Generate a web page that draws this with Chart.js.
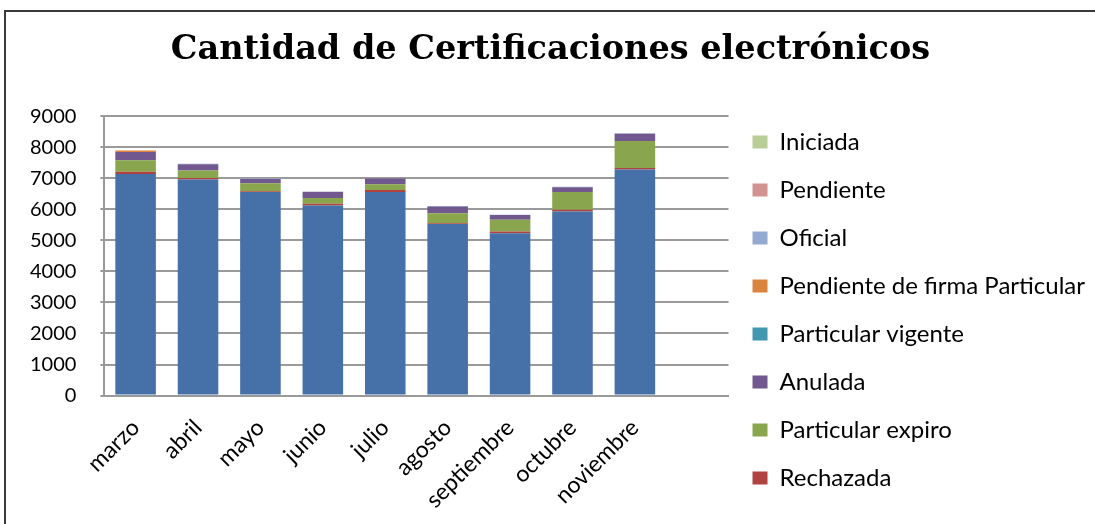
<!DOCTYPE html>
<html>
<head>
<meta charset="utf-8">
<script src="https://cdn.jsdelivr.net/npm/chart.js@4"></script>
<style>
  body { margin: 0; background: #fff; }
  #wrap { position: relative; width: 1095px; height: 524px; }
  #marco { position: absolute; left: 4px; top: 10px; width: 1095px; height: 530px; border: 2px solid #3a3a3a; box-sizing: border-box; pointer-events: none; }
</style>
</head>
<body>
<div id="wrap">
  <canvas id="grafico" width="1095" height="524"></canvas>
  <div id="marco"></div>
</div>
<script>
// meses (el último hueco queda vacío como en la planilla)
const meses = ['marzo', 'abril', 'mayo', 'junio', 'julio', 'agosto', 'septiembre', 'octubre', 'noviembre', ''];

// valores, de abajo hacia arriba
const vigente = [7140, 6960, 6560, 6120, 6560, 5530, 5230, 5930, 7280];
const rechazada = [70, 50, 20, 60, 60, 20, 55, 55, 55];
const particularExpiro = [375, 240, 260, 185, 185, 325, 380, 575, 865];
const anulada = [260, 205, 140, 205, 185, 215, 150, 150, 235];
const particularVigente = [0, 0, 0, 0, 0, 0, 0, 0, 0];
const pendienteFirma = [50, 0, 0, 0, 0, 0, 0, 0, 0];
const oficial = [0, 15, 15, 0, 0, 15, 10, 15, 15];
const pendiente = [0, 0, 0, 0, 0, 0, 0, 0, 0];
const iniciada = [0, 0, 0, 0, 0, 0, 0, 0, 0];

const ticksY = [0, 1000, 2000, 3000, 4000, 5000, 6000, 7000, 8000, 9000];

const fuente = 'Lato, "Open Sans", sans-serif';

function serie(nombre, datos, color) {
    return {
        label: nombre,
        data: datos,
        backgroundColor: color,
        borderWidth: 0,
        barPercentage: 0.65,
        categoryPercentage: 1
    };
}

new Chart(document.getElementById('grafico'), {
    type: 'bar',
    data: {
        labels: meses,
        datasets: [
            serie('Vigente', vigente, '#4671a8'),
            serie('Rechazada', rechazada, '#b0423f'),
            serie('Particular expiro', particularExpiro, '#89a54e'),
            serie('Anulada', anulada, '#71588f'),
            serie('Particular vigente', particularVigente, '#4198af'),
            serie('Pendiente de firma Particular', pendienteFirma, '#db843d'),
            serie('Oficial', oficial, '#93a9cf'),
            serie('Pendiente', pendiente, '#d19392'),
            serie('Iniciada', iniciada, '#b9cd96')
        ]
    },
    options: {
        responsive: false,
        animation: false,
        layout: { padding: { left: 6, right: 0, top: 30, bottom: 0 } },
        plugins: {
            title: {
                display: true,
                text: 'Cantidad de Certificaciones electrónicos',
                color: '#000',
                font: { family: '"DejaVu Serif", serif', size: 33.5, weight: 'bold' },
                padding: { top: 0, bottom: 46 }
            },
            legend: {
                position: 'right',
                reverse: true,
                maxWidth: 420,
                title: { display: true, text: ' ', font: { size: 10 }, padding: { top: 54, bottom: 0 } },
                labels: {
                    color: '#000',
                    font: { family: fuente, size: 24 },
                    boxWidth: 15,
                    boxHeight: 13,
                    padding: 24,
                    filter: (item) => item.text !== 'Vigente'
                }
            },
            tooltip: { enabled: false }
        },
        scales: {
            x: {
                stacked: true,
                grid: { display: false },
                border: { color: '#9a9a9a', width: 2 },
                ticks: {
                    color: '#000',
                    font: { family: fuente, size: 23 },
                    maxRotation: 45,
                    minRotation: 45,
                    padding: 10.5
                }
            },
            y: {
                stacked: true,
                min: 0,
                max: 9000,
                afterBuildTicks: (eje) => { eje.ticks = ticksY.map(v => ({ value: v })); },
                grid: { color: '#9a9a9a', lineWidth: 2, tickLength: 4 },
                border: { color: '#9a9a9a', width: 2 },
                ticks: {
                    color: '#000',
                    font: { family: fuente, size: 20 },
                    padding: 24,
                    callback: (v) => String(v)
                }
            }
        }
    }
});
</script>
</body>
</html>
